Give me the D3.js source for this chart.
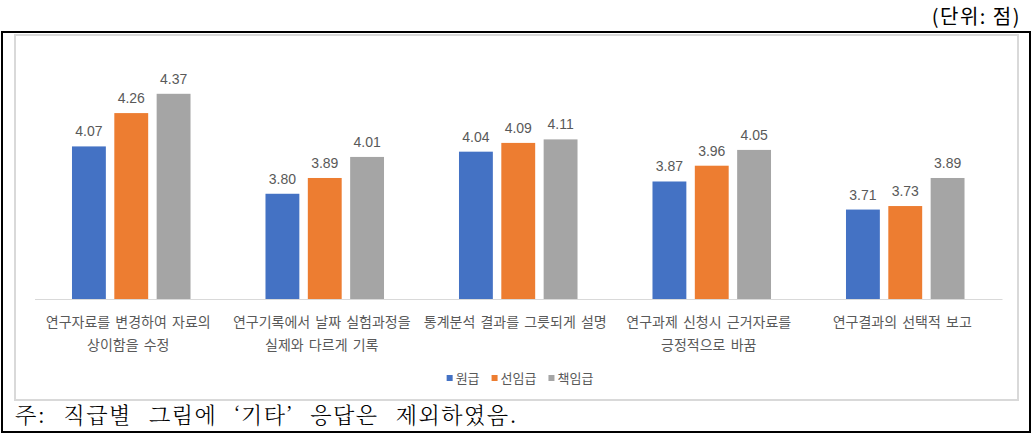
<!DOCTYPE html>
<html>
<head>
<meta charset="utf-8">
<script src="https://cdn.jsdelivr.net/npm/d3@7"></script>
<style>
  html, body { margin: 0; padding: 0; background: #fff; }
  svg { display: block; }
</style>
</head>
<body>
<svg id="chart" width="1035" height="439"></svg>
<script>
// ---- data ----
const categories = [
  ["연구자료를 변경하여 자료의", "상이함을 수정"],
  ["연구기록에서 날짜 실험과정을", "실제와 다르게 기록"],
  ["통계분석 결과를 그릇되게 설명"],
  ["연구과제 신청시 근거자료를", "긍정적으로 바꿈"],
  ["연구결과의 선택적 보고"]
];
const seriesNames = ["원급", "선임급", "책임급"];
const seriesColors = ["#4472C4", "#ED7D31", "#A5A5A5"];
const valuesJunior = [4.07, 3.80, 4.04, 3.87, 3.71];   // 원급
const valuesSenior = [4.26, 3.89, 4.09, 3.96, 3.73];   // 선임급
const valuesChief  = [4.37, 4.01, 4.11, 4.05, 3.89];   // 책임급
const yDomain = [3.2, 4.5];
const unitLabel = "(단위: 점)";
const noteText = "주: 직급별 그림에 ‘기타’ 응답은 제외하였음.";

const seriesValues = [valuesJunior, valuesSenior, valuesChief];
const catKeys = categories.map((c, i) => "c" + i);

const svg = d3.select("#chart");
const KFONT = "'Noto Sans CJK KR', 'Noto Sans', sans-serif";
const NFONT = "'Liberation Sans', Arial, sans-serif";

// outer black frame
svg.append("rect").attr("x", 2).attr("y", 32).attr("width", 1028).attr("height", 400)
  .attr("fill", "#fff").attr("stroke", "#000").attr("stroke-width", 2);
// chart area border
svg.append("rect").attr("x", 15).attr("y", 35).attr("width", 1003).attr("height", 365)
  .attr("fill", "#fff").attr("stroke", "#d9d9d9").attr("stroke-width", 2);

// unit label
svg.append("text").attr("x", 1021).attr("y", 24).attr("text-anchor", "end")
  .attr("font-family", KFONT).attr("font-size", 20)
  .attr("letter-spacing", 1.5).attr("fill", "#000")
  .text(unitLabel);

// scales
const x0 = d3.scaleBand().domain(catKeys).range([34.5, 1002]).padding(0);
const x1 = d3.scaleBand().domain(seriesNames).range([-63.5, 63.5])
  .paddingInner(0.2).paddingOuter(0.1);
const y = d3.scaleLinear().domain(yDomain).range([299, 71]);

const g = svg.append("g");

// bars
catKeys.forEach((ck, ci) => {
  const cx = x0(ck) + x0.bandwidth() / 2;
  seriesNames.forEach((s, si) => {
    const v = seriesValues[si][ci];
    const bx = cx + x1(s);
    g.append("rect")
      .attr("x", bx).attr("y", y(v))
      .attr("width", x1.bandwidth()).attr("height", y(yDomain[0]) - y(v))
      .attr("fill", seriesColors[si]);
    g.append("text")
      .attr("x", bx + x1.bandwidth() / 2).attr("y", y(v) - 10)
      .attr("text-anchor", "middle")
      .attr("font-family", NFONT).attr("font-size", 14).attr("fill", "#595959")
      .text(v.toFixed(2));
  });
});

// x axis line
const xAxis = d3.axisBottom(x0).tickSize(0).tickFormat("");
const axG = svg.append("g").attr("transform", `translate(0,${y(yDomain[0])})`).call(xAxis);
axG.select(".domain").attr("stroke", "#d9d9d9").attr("stroke-width", 1);

// category labels
catKeys.forEach((ck, ci) => {
  const cx = x0(ck) + x0.bandwidth() / 2;
  const t = svg.append("text").attr("text-anchor", "middle")
    .attr("font-family", KFONT).attr("font-size", 14).attr("word-spacing", 2)
    .attr("fill", "#595959");
  categories[ci].forEach((line, li) => {
    t.append("tspan").attr("x", cx - 3).attr("y", 327 + li * 23).text(line);
  });
});

// legend
const lg = svg.append("g");
let lx = 0;
seriesNames.forEach((s, si) => {
  const it = lg.append("g");
  it.append("rect").attr("x", 0).attr("y", 375).attr("width", 6).attr("height", 6)
    .attr("fill", seriesColors[si]);
  const tx = it.append("text").attr("x", 9).attr("y", 383)
    .attr("font-family", KFONT).attr("font-size", 13).attr("fill", "#595959").text(s);
  const w = 9 + tx.node().getComputedTextLength();
  it.attr("transform", `translate(${lx},0)`);
  lx += w + 12;
});
const totalW = lx - 12;
lg.attr("transform", `translate(${520 - totalW / 2},0)`);

// footnote
svg.append("text").attr("x", 15).attr("y", 423)
  .attr("font-family", "'Noto Serif CJK KR', 'Noto Sans CJK KR', serif")
  .attr("font-size", 22).attr("font-weight", 300).attr("fill", "#000")
  .attr("word-spacing", 10).attr("letter-spacing", 1.5)
  .text(noteText);
</script>
</body>
</html>
